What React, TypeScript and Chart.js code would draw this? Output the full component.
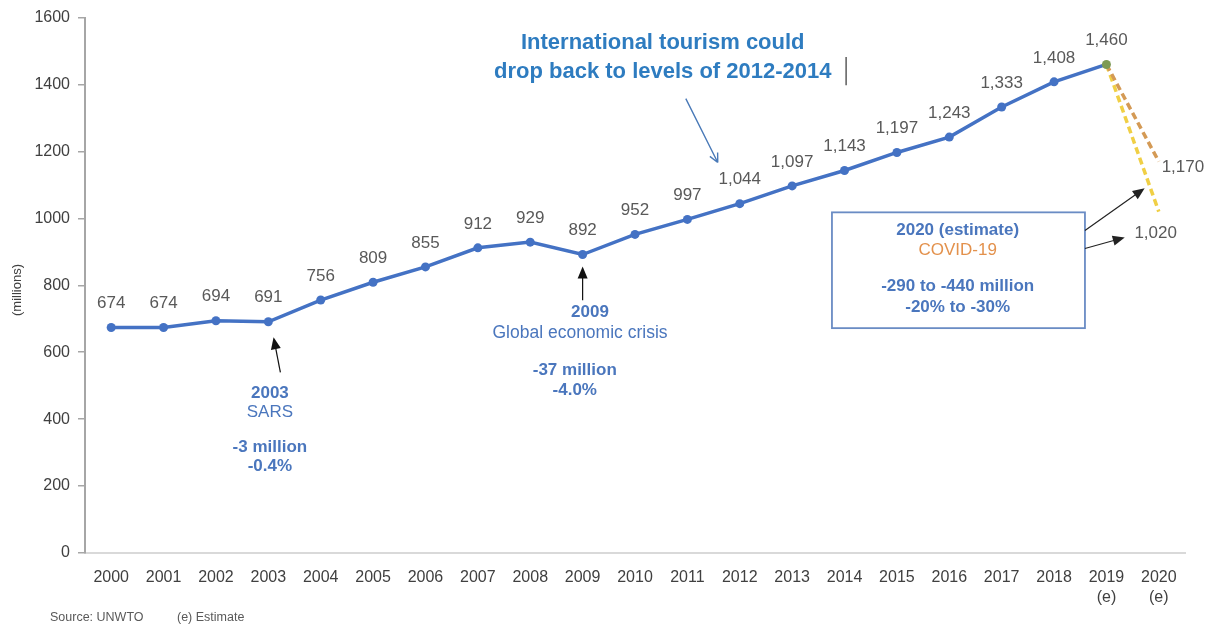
import React, { useEffect, useRef } from 'react';
import { Chart, registerables } from 'chart.js';

Chart.register(...registerables);

const years: (string | string[])[] = [
  '2000', '2001', '2002', '2003', '2004', '2005', '2006', '2007', '2008', '2009',
  '2010', '2011', '2012', '2013', '2014', '2015', '2016', '2017', '2018',
  ['2019', '(e)'], ['2020', '(e)'],
];
const arrivals = [674, 674, 694, 691, 756, 809, 855, 912, 929, 892, 952, 997, 1044, 1097, 1143, 1197, 1243, 1333, 1408, 1460, null];
const scenarioHigh = [null, null, null, null, null, null, null, null, null, null, null, null, null, null, null, null, null, null, null, 1460, 1170];
const scenarioLow = [null, null, null, null, null, null, null, null, null, null, null, null, null, null, null, null, null, null, null, 1460, 1020];
const yTicks = [0, 200, 400, 600, 800, 1000, 1200, 1400, 1600];

const FONT = '"Liberation Sans", Arial, sans-serif';
const BLUE = '#4472c4';
const NOTE_BLUE = '#4a76bd';
const TITLE_BLUE = '#2e7cc0';
const GREY_TEXT = '#595959';

const fmt = (v: number) => v.toLocaleString('en-US');

function arrowFilled(ctx: CanvasRenderingContext2D, x1: number, y1: number, x2: number, y2: number, color: string) {
  const ang = Math.atan2(y2 - y1, x2 - x1);
  const hl = 12, hw = 5;
  ctx.save();
  ctx.strokeStyle = color;
  ctx.fillStyle = color;
  ctx.lineWidth = 1.2;
  ctx.beginPath();
  ctx.moveTo(x1, y1);
  ctx.lineTo(x2 - Math.cos(ang) * hl * 0.8, y2 - Math.sin(ang) * hl * 0.8);
  ctx.stroke();
  ctx.beginPath();
  ctx.moveTo(x2, y2);
  ctx.lineTo(x2 - Math.cos(ang) * hl + Math.sin(ang) * hw, y2 - Math.sin(ang) * hl - Math.cos(ang) * hw);
  ctx.lineTo(x2 - Math.cos(ang) * hl - Math.sin(ang) * hw, y2 - Math.sin(ang) * hl + Math.cos(ang) * hw);
  ctx.closePath();
  ctx.fill();
  ctx.restore();
}

function arrowOpen(ctx: CanvasRenderingContext2D, x1: number, y1: number, x2: number, y2: number, color: string) {
  const ang = Math.atan2(y2 - y1, x2 - x1);
  const hl = 10;
  ctx.save();
  ctx.strokeStyle = color;
  ctx.lineWidth = 1.4;
  ctx.beginPath();
  ctx.moveTo(x1, y1);
  ctx.lineTo(x2, y2);
  ctx.moveTo(x2, y2);
  ctx.lineTo(x2 - Math.cos(ang - 0.45) * hl, y2 - Math.sin(ang - 0.45) * hl);
  ctx.moveTo(x2, y2);
  ctx.lineTo(x2 - Math.cos(ang + 0.45) * hl, y2 - Math.sin(ang + 0.45) * hl);
  ctx.stroke();
  ctx.restore();
}

function text(ctx: CanvasRenderingContext2D, s: string, x: number, y: number, font: string, color: string, align: CanvasTextAlign = 'center') {
  ctx.save();
  ctx.font = font;
  ctx.fillStyle = color;
  ctx.textAlign = align;
  ctx.textBaseline = 'middle';
  ctx.fillText(s, x, y);
  ctx.restore();
}

const annotationPlugin = {
  id: 'annotations',
  afterDraw(chart: any) {
    const ctx: CanvasRenderingContext2D = chart.ctx;
    const xs = chart.scales.x;
    const ys = chart.scales.y;
    const X = (i: number) => xs.getPixelForValue(i);
    const Y = (v: number) => ys.getPixelForValue(v);

    // data labels
    arrivals.forEach((v, i) => {
      if (v == null) return;
      text(ctx, fmt(v), X(i), Y(v) - 24, `17px ${FONT}`, GREY_TEXT);
    });
    text(ctx, fmt(scenarioHigh[20] as number), X(20.46), Y(1152), `17px ${FONT}`, GREY_TEXT);
    text(ctx, fmt(scenarioLow[20] as number), X(19.94), Y(955), `17px ${FONT}`, GREY_TEXT);

    // y title
    ctx.save();
    ctx.translate(17, 290);
    ctx.rotate(-Math.PI / 2);
    text(ctx, '(millions)', 0, 0, `13px ${FONT}`, '#404040');
    ctx.restore();

    // SARS
    arrowFilled(ctx, X(3.23), Y(540), X(3.1), Y(645), '#111');
    text(ctx, '2003', X(3.03), Y(478), `bold 17px ${FONT}`, NOTE_BLUE);
    text(ctx, 'SARS', X(3.03), Y(421), `17px ${FONT}`, NOTE_BLUE);
    text(ctx, '-3 million', X(3.03), Y(316), `bold 17px ${FONT}`, NOTE_BLUE);
    text(ctx, '-0.4%', X(3.03), Y(260), `bold 17px ${FONT}`, NOTE_BLUE);

    // 2009
    arrowFilled(ctx, X(9), Y(755), X(9), Y(856), '#111');
    text(ctx, '2009', X(9.14), Y(719), `bold 17px ${FONT}`, NOTE_BLUE);
    text(ctx, 'Global economic crisis', X(8.95), Y(657), `17.5px ${FONT}`, NOTE_BLUE);
    text(ctx, '-37 million', X(8.85), Y(546), `bold 17px ${FONT}`, NOTE_BLUE);
    text(ctx, '-4.0%', X(8.85), Y(487), `bold 17px ${FONT}`, NOTE_BLUE);

    // title note
    text(ctx, 'International tourism could', X(10.53), Y(1523), `bold 22px ${FONT}`, TITLE_BLUE);
    text(ctx, 'drop back to levels of 2012-2014', X(10.53), Y(1437), `bold 22px ${FONT}`, TITLE_BLUE);
    ctx.save();
    ctx.strokeStyle = '#333';
    ctx.lineWidth = 1.2;
    ctx.beginPath();
    ctx.moveTo(X(14.03), Y(1482));
    ctx.lineTo(X(14.03), Y(1398));
    ctx.stroke();
    ctx.restore();
    arrowOpen(ctx, X(10.97), Y(1358), X(11.58), Y(1167), '#4a7ab8');

    // COVID box
    const bl = X(13.76), br = X(18.59), bt = Y(1018), bb = Y(672);
    ctx.save();
    ctx.strokeStyle = '#6a8cc4';
    ctx.lineWidth = 1.8;
    ctx.strokeRect(bl, bt, br - bl, bb - bt);
    ctx.restore();
    const cx = X(16.16);
    text(ctx, '2020 (estimate)', cx, Y(964), `bold 17px ${FONT}`, NOTE_BLUE);
    text(ctx, 'COVID-19', cx, Y(904), `17px ${FONT}`, '#e3914c');
    text(ctx, '-290 to -440 million', cx, Y(797), `bold 17px ${FONT}`, NOTE_BLUE);
    text(ctx, '-20% to -30%', cx, Y(734), `bold 17px ${FONT}`, NOTE_BLUE);
    arrowFilled(ctx, X(18.59), Y(964), X(19.73), Y(1090), '#222');
    arrowFilled(ctx, X(18.59), Y(910), X(19.35), Y(943), '#222');

    // footer
    text(ctx, 'Source: UNWTO', 50, 618, `12.5px ${FONT}`, GREY_TEXT, 'left');
    text(ctx, '(e) Estimate', 177, 618, `12.5px ${FONT}`, GREY_TEXT, 'left');
  },
};

export default function App() {
  const ref = useRef<HTMLCanvasElement | null>(null);

  useEffect(() => {
    if (!ref.current) return;
    const chart = new Chart(ref.current, {
      type: 'line',
      data: {
        labels: years as any,
        datasets: [
          {
            label: 'Scenario high',
            data: scenarioHigh as any,
            borderColor: '#d49a55',
            borderWidth: 3.5,
            borderDash: [7, 4],
            pointRadius: 0,
            fill: false,
            order: 2,
          },
          {
            label: 'Scenario low',
            data: scenarioLow as any,
            borderColor: '#f0cf45',
            borderWidth: 3.5,
            borderDash: [7, 4],
            pointRadius: 0,
            fill: false,
            order: 3,
          },
          {
            label: 'International tourist arrivals',
            data: arrivals as any,
            borderColor: BLUE,
            backgroundColor: BLUE,
            borderWidth: 3.5,
            pointRadius: 4.5,
            pointBackgroundColor: arrivals.map((_, i) => (i === 19 ? '#7d9a55' : BLUE)),
            pointBorderColor: arrivals.map((_, i) => (i === 19 ? '#7d9a55' : BLUE)),
            pointBorderWidth: 0,
            fill: false,
            order: 1,
          },
        ],
      },
      options: {
        animation: false,
        responsive: false,
        layout: { padding: { left: 0, top: 17, right: 23, bottom: 0 } },
        plugins: {
          legend: { display: false },
          tooltip: { enabled: false },
        },
        scales: {
          x: {
            type: 'category',
            offset: true,
            grid: { display: false, drawTicks: false },
            border: { display: true, color: '#d9d9d9', width: 2 },
            ticks: {
              color: '#404040',
              font: { family: FONT, size: 16, lineHeight: 1.25 },
              padding: 15,
              maxRotation: 0,
              autoSkip: false,
            },
            afterFit: (scale: any) => {
              scale.height = 73;
            },
          },
          y: {
            min: 0,
            max: 1600,
            afterBuildTicks: (scale: any) => {
              scale.ticks = yTicks.map((v) => ({ value: v }));
            },
            grid: {
              display: true,
              drawOnChartArea: false,
              drawTicks: true,
              tickLength: 7,
              color: '#a6a6a6',
              lineWidth: 1.5,
            },
            border: { display: true, color: '#a6a6a6', width: 2 },
            ticks: {
              color: '#404040',
              font: { family: FONT, size: 16 },
              padding: 8,
              callback: (value: any) => String(value),
            },
            afterFit: (scale: any) => {
              scale.width = 85;
            },
          },
        },
      },
      plugins: [annotationPlugin],
    });
    return () => chart.destroy();
  }, []);

  return (
    <div style={{ position: 'absolute', left: 0, top: 0, width: 1208, height: 626, background: '#fff' }}>
      <canvas ref={ref} width={1208} height={626} />
    </div>
  );
}
